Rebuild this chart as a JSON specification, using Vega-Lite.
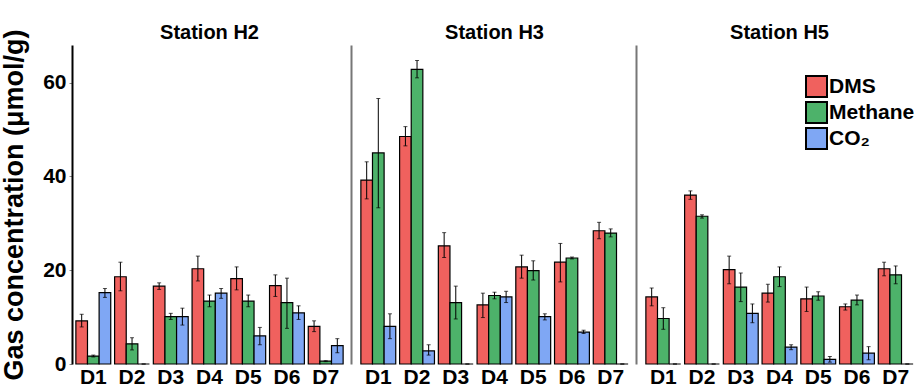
{
  "$schema": "https://vega.github.io/schema/vega-lite/v6.json",
  "padding": {"top": 22, "left": 0, "right": 0, "bottom": 0},
  "background": "white",
  "bounds": "flush",
  "data": {"values": [
    {"station":"H2","day":"D1","gas":"DMS","value":9.2,"lo":7.9,"hi":10.6},
    {"station":"H2","day":"D1","gas":"Methane","value":1.7,"lo":1.5,"hi":1.9},
    {"station":"H2","day":"D1","gas":"CO₂","value":15.2,"lo":14.2,"hi":16.1},
    {"station":"H2","day":"D2","gas":"DMS","value":18.6,"lo":15.6,"hi":21.7},
    {"station":"H2","day":"D2","gas":"Methane","value":4.3,"lo":3.0,"hi":5.6},
    {"station":"H2","day":"D2","gas":"CO₂","value":0,"lo":0,"hi":0},
    {"station":"H2","day":"D3","gas":"DMS","value":16.6,"lo":15.9,"hi":17.3},
    {"station":"H2","day":"D3","gas":"Methane","value":10.1,"lo":9.5,"hi":10.8},
    {"station":"H2","day":"D3","gas":"CO₂","value":10.1,"lo":8.3,"hi":11.9},
    {"station":"H2","day":"D4","gas":"DMS","value":20.3,"lo":17.7,"hi":23.0},
    {"station":"H2","day":"D4","gas":"Methane","value":13.4,"lo":12.2,"hi":14.7},
    {"station":"H2","day":"D4","gas":"CO₂","value":15.1,"lo":14.0,"hi":16.1},
    {"station":"H2","day":"D5","gas":"DMS","value":18.2,"lo":15.8,"hi":20.7},
    {"station":"H2","day":"D5","gas":"Methane","value":13.4,"lo":12.2,"hi":14.7},
    {"station":"H2","day":"D5","gas":"CO₂","value":6.0,"lo":4.1,"hi":7.8},
    {"station":"H2","day":"D6","gas":"DMS","value":16.7,"lo":14.4,"hi":19.0},
    {"station":"H2","day":"D6","gas":"Methane","value":13.1,"lo":7.6,"hi":18.3},
    {"station":"H2","day":"D6","gas":"CO₂","value":10.9,"lo":9.5,"hi":12.4},
    {"station":"H2","day":"D7","gas":"DMS","value":8.0,"lo":6.9,"hi":9.2},
    {"station":"H2","day":"D7","gas":"Methane","value":0.6,"lo":0.5,"hi":0.7},
    {"station":"H2","day":"D7","gas":"CO₂","value":3.9,"lo":2.4,"hi":5.4},
    {"station":"H3","day":"D1","gas":"DMS","value":39.2,"lo":35.2,"hi":43.1},
    {"station":"H3","day":"D1","gas":"Methane","value":45.0,"lo":33.3,"hi":56.6},
    {"station":"H3","day":"D1","gas":"CO₂","value":8.0,"lo":5.4,"hi":10.7},
    {"station":"H3","day":"D2","gas":"DMS","value":48.5,"lo":46.5,"hi":50.6},
    {"station":"H3","day":"D2","gas":"Methane","value":62.8,"lo":61.0,"hi":64.7},
    {"station":"H3","day":"D2","gas":"CO₂","value":2.8,"lo":1.9,"hi":4.1},
    {"station":"H3","day":"D3","gas":"DMS","value":25.2,"lo":22.7,"hi":28.0},
    {"station":"H3","day":"D3","gas":"Methane","value":13.1,"lo":9.6,"hi":16.6},
    {"station":"H3","day":"D3","gas":"CO₂","value":0,"lo":0,"hi":0},
    {"station":"H3","day":"D4","gas":"DMS","value":12.6,"lo":9.9,"hi":15.1},
    {"station":"H3","day":"D4","gas":"Methane","value":14.6,"lo":13.9,"hi":15.3},
    {"station":"H3","day":"D4","gas":"CO₂","value":14.3,"lo":13.1,"hi":15.5},
    {"station":"H3","day":"D5","gas":"DMS","value":20.7,"lo":18.3,"hi":23.2},
    {"station":"H3","day":"D5","gas":"Methane","value":19.9,"lo":17.9,"hi":22.0},
    {"station":"H3","day":"D5","gas":"CO₂","value":10.1,"lo":9.4,"hi":10.7},
    {"station":"H3","day":"D6","gas":"DMS","value":21.7,"lo":17.5,"hi":25.7},
    {"station":"H3","day":"D6","gas":"Methane","value":22.6,"lo":22.4,"hi":22.8},
    {"station":"H3","day":"D6","gas":"CO₂","value":6.8,"lo":6.5,"hi":7.2},
    {"station":"H3","day":"D7","gas":"DMS","value":28.4,"lo":26.7,"hi":30.2},
    {"station":"H3","day":"D7","gas":"Methane","value":27.9,"lo":27.1,"hi":28.8},
    {"station":"H3","day":"D7","gas":"CO₂","value":0,"lo":0,"hi":0},
    {"station":"H5","day":"D1","gas":"DMS","value":14.3,"lo":12.4,"hi":16.2},
    {"station":"H5","day":"D1","gas":"Methane","value":9.7,"lo":7.4,"hi":12.0},
    {"station":"H5","day":"D1","gas":"CO₂","value":0,"lo":0,"hi":0},
    {"station":"H5","day":"D2","gas":"DMS","value":36.0,"lo":35.1,"hi":36.9},
    {"station":"H5","day":"D2","gas":"Methane","value":31.5,"lo":31.1,"hi":31.8},
    {"station":"H5","day":"D2","gas":"CO₂","value":0,"lo":0,"hi":0},
    {"station":"H5","day":"D3","gas":"DMS","value":20.1,"lo":17.1,"hi":23.0},
    {"station":"H5","day":"D3","gas":"Methane","value":16.4,"lo":13.3,"hi":19.4},
    {"station":"H5","day":"D3","gas":"CO₂","value":10.8,"lo":8.8,"hi":12.8},
    {"station":"H5","day":"D4","gas":"DMS","value":15.1,"lo":13.2,"hi":17.0},
    {"station":"H5","day":"D4","gas":"Methane","value":18.6,"lo":16.5,"hi":20.7},
    {"station":"H5","day":"D4","gas":"CO₂","value":3.6,"lo":3.05,"hi":4.1},
    {"station":"H5","day":"D5","gas":"DMS","value":13.9,"lo":11.2,"hi":16.4},
    {"station":"H5","day":"D5","gas":"Methane","value":14.5,"lo":13.6,"hi":15.4},
    {"station":"H5","day":"D5","gas":"CO₂","value":1.0,"lo":0.4,"hi":1.6},
    {"station":"H5","day":"D6","gas":"DMS","value":12.2,"lo":11.5,"hi":12.8},
    {"station":"H5","day":"D6","gas":"Methane","value":13.6,"lo":12.6,"hi":14.7},
    {"station":"H5","day":"D6","gas":"CO₂","value":2.3,"lo":0.9,"hi":3.7},
    {"station":"H5","day":"D7","gas":"DMS","value":20.3,"lo":18.8,"hi":21.7},
    {"station":"H5","day":"D7","gas":"Methane","value":19.0,"lo":17.1,"hi":20.9},
    {"station":"H5","day":"D7","gas":"CO₂","value":0,"lo":0,"hi":0}
  ]},
  "spacing": 10,
  "hconcat": [
    {
      "width": 275, "height": 319,
      "title": {"text": "Station H2", "offset": -14},
      "transform": [{"filter": "datum.station === 'H2'"}],
      "encoding": {
        "x": {"field": "day", "type": "nominal", "scale": {"paddingInner": 0.1, "paddingOuter": 0.1}, "axis": {"title": null, "domain": false, "ticks": false, "labelAngle": 0}},
        "xOffset": {"field": "gas", "type": "nominal", "sort": ["DMS", "Methane", "CO₂"]}
      },
      "layer": [
        {"mark": {"type": "bar", "stroke": "black", "strokeWidth": 1.2},
         "encoding": {
           "y": {"field": "value", "type": "quantitative", "scale": {"domain": [0, 68], "nice": false}, "axis": {"title": "Gas concentration (μmol/g)", "values": [0, 20, 40, 60], "domainColor": "black", "domainWidth": 2, "tickColor": "#888", "tickSize": 3, "grid": false, "titleFontSize": 27, "titlePadding": 14}},
           "color": {"field": "gas", "type": "nominal", "legend": null, "scale": {"domain": ["DMS", "Methane", "CO₂"], "range": ["#F0615E", "#4DB26A", "#7FA7F4"]}}
         }},
        {"mark": {"type": "rule", "color": "black", "strokeWidth": 1},
         "encoding": {"y": {"field": "lo", "type": "quantitative"}, "y2": {"field": "hi"}}},
        {"mark": {"type": "tick", "color": "black", "size": 4, "thickness": 1},
         "encoding": {"y": {"field": "lo", "type": "quantitative"}}},
        {"mark": {"type": "tick", "color": "black", "size": 4, "thickness": 1},
         "encoding": {"y": {"field": "hi", "type": "quantitative"}}}
      ]
    },
    {
      "width": 275, "height": 319,
      "title": {"text": "Station H3", "offset": 2},
      "transform": [{"filter": "datum.station === 'H3'"}],
      "encoding": {
        "x": {"field": "day", "type": "nominal", "scale": {"paddingInner": 0.1, "paddingOuter": 0.1}, "axis": {"title": null, "domain": false, "ticks": false, "labelAngle": 0}},
        "xOffset": {"field": "gas", "type": "nominal", "sort": ["DMS", "Methane", "CO₂"]}
      },
      "layer": [
        {"mark": {"type": "bar", "stroke": "black", "strokeWidth": 1.2},
         "encoding": {
           "y": {"field": "value", "type": "quantitative", "scale": {"domain": [0, 68], "nice": false}, "axis": {"title": null, "labels": false, "ticks": false, "grid": false, "domainColor": "#777", "domainWidth": 2, "offset": 6}},
           "color": {"field": "gas", "type": "nominal", "legend": null, "scale": {"domain": ["DMS", "Methane", "CO₂"], "range": ["#F0615E", "#4DB26A", "#7FA7F4"]}}
         }},
        {"mark": {"type": "rule", "color": "black", "strokeWidth": 1},
         "encoding": {"y": {"field": "lo", "type": "quantitative"}, "y2": {"field": "hi"}}},
        {"mark": {"type": "tick", "color": "black", "size": 4, "thickness": 1},
         "encoding": {"y": {"field": "lo", "type": "quantitative"}}},
        {"mark": {"type": "tick", "color": "black", "size": 4, "thickness": 1},
         "encoding": {"y": {"field": "hi", "type": "quantitative"}}}
      ]
    },
    {
      "width": 275, "height": 319,
      "title": {"text": "Station H5", "offset": 2},
      "transform": [{"filter": "datum.station === 'H5'"}],
      "encoding": {
        "x": {"field": "day", "type": "nominal", "scale": {"paddingInner": 0.1, "paddingOuter": 0.1}, "axis": {"title": null, "domain": false, "ticks": false, "labelAngle": 0}},
        "xOffset": {"field": "gas", "type": "nominal", "sort": ["DMS", "Methane", "CO₂"]}
      },
      "layer": [
        {"mark": {"type": "bar", "stroke": "black", "strokeWidth": 1.2},
         "encoding": {
           "y": {"field": "value", "type": "quantitative", "scale": {"domain": [0, 68], "nice": false}, "axis": {"title": null, "labels": false, "ticks": false, "grid": false, "domainColor": "#777", "domainWidth": 2, "offset": 6}},
           "color": {"field": "gas", "type": "nominal", "sort": ["DMS", "Methane", "CO₂"], "scale": {"domain": ["DMS", "Methane", "CO₂"], "range": ["#F0615E", "#4DB26A", "#7FA7F4"]},
             "legend": {"title": null, "orient": "none", "legendX": 163, "legendY": 30, "columns": 1, "symbolType": "square", "symbolSize": 441, "symbolStrokeColor": "black", "symbolStrokeWidth": 2, "labelFontSize": 21, "labelFont": "Liberation Sans", "labelFontWeight": "bold", "labelColor": "black", "rowPadding": -7, "labelOffset": 1}}
         }},
        {"mark": {"type": "rule", "color": "black", "strokeWidth": 1},
         "encoding": {"y": {"field": "lo", "type": "quantitative"}, "y2": {"field": "hi"}}},
        {"mark": {"type": "tick", "color": "black", "size": 4, "thickness": 1},
         "encoding": {"y": {"field": "lo", "type": "quantitative"}}},
        {"mark": {"type": "tick", "color": "black", "size": 4, "thickness": 1},
         "encoding": {"y": {"field": "hi", "type": "quantitative"}}}
      ]
    }
  ],
  "resolve": {"scale": {"color": "shared"}, "legend": {"color": "independent"}},
  "config": {
    "view": {"stroke": null},
    "font": "Liberation Sans",
    "title": {"fontSize": 20, "font": "Liberation Sans", "fontWeight": "bold", "color": "black", "anchor": "middle", "offset": 6},
    "axis": {"labelFont": "Liberation Sans", "labelFontWeight": "bold", "labelColor": "black", "labelFontSize": 21, "titleFont": "Liberation Sans", "titleFontWeight": "bold", "titleColor": "black", "labelPadding": 3},
    "axisX": {"labelPadding": 2}
  }
}
